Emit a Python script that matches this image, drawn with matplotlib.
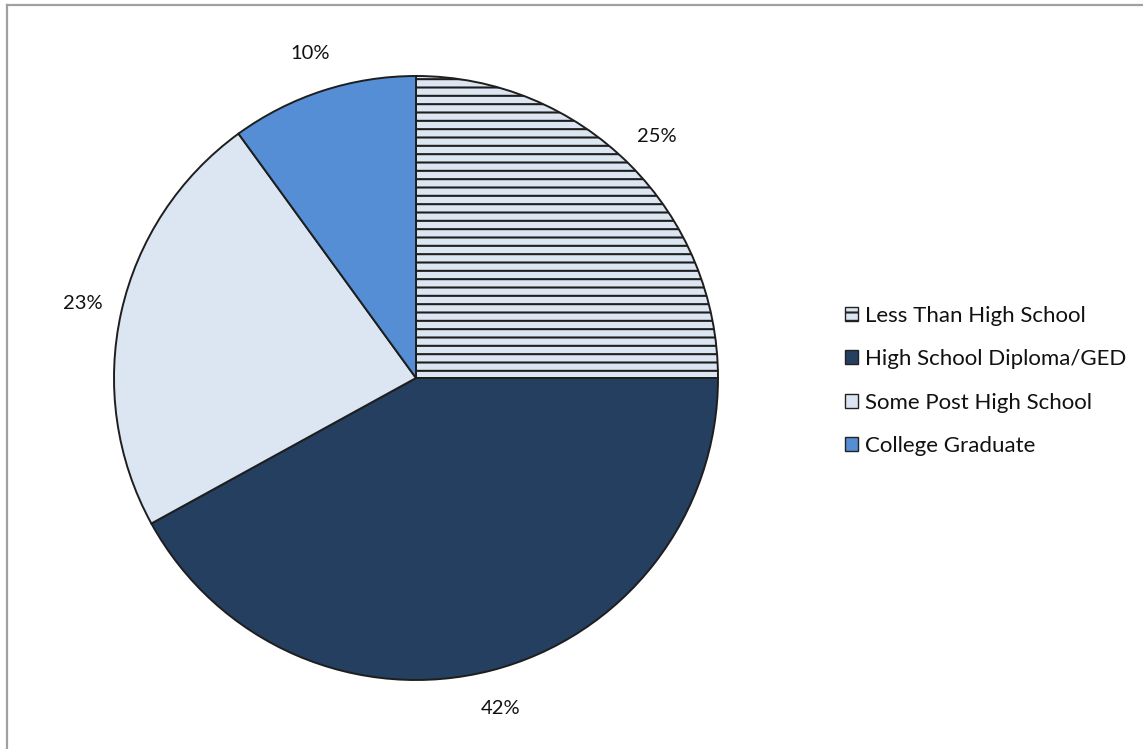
import matplotlib.pyplot as plt
from matplotlib.lines import Line2D
from matplotlib.patches import Patch

# education level shares, in percent
categories = ['Less Than High School', 'High School Diploma/GED',
              'Some Post High School', 'College Graduate']
shares = [25, 42, 23, 10]

navy = '#243F60'
pale = '#DCE6F2'
mid_blue = '#558ED5'
fills = [pale, navy, pale, mid_blue]
hatches = ['--', None, None, None]

plt.rcParams['font.family'] = ['Lato', 'DejaVu Sans']
plt.rcParams['hatch.color'] = navy
plt.rcParams['hatch.linewidth'] = 1.5

W, H, DPI = 1143, 749, 100
fig = plt.figure(figsize=(W / DPI, H / DPI), dpi=DPI, facecolor='white')

# pie centre (416, 378) px, radius 302 px
cx, cy, r = 416, 378, 302
ax = fig.add_axes([(cx - r) / W, (H - cy - r) / H, 2 * r / W, 2 * r / H])

wedges, _, pct_texts = ax.pie(
    shares, colors=fills, startangle=90, counterclock=False,
    autopct='%.0f%%', pctdistance=1.13,
    wedgeprops=dict(edgecolor='#1E1E1E', linewidth=1.4),
    textprops=dict(fontsize=14.5, color='#111111'))
for w, h in zip(wedges, hatches):
    if h:
        w.set_hatch(h)
ax.set_xlim(-1, 1)
ax.set_ylim(-1, 1)
ax.set_aspect('equal')

handles = [Patch(facecolor=f, edgecolor='#222222', hatch=h, linewidth=1.0)
           for f, h in zip(fills, hatches)]
leg = fig.legend(handles, categories, loc='upper left',
                 bbox_to_anchor=(836 / W, 1 - 297 / H), frameon=False,
                 fontsize=16, handlelength=0.6, handleheight=0.6,
                 handletextpad=0.3, labelspacing=1.05, borderaxespad=0)
for t in leg.get_texts():
    t.set_color('#111111')

# outer chart-area border (left and top edges)
fig.add_artist(Line2D([6.5 / W, 6.5 / W], [0, 1 - 5 / H],
                      transform=fig.transFigure, color='#A0A0A0', lw=1.6))
fig.add_artist(Line2D([6.5 / W, 1], [1 - 5 / H, 1 - 5 / H],
                      transform=fig.transFigure, color='#A0A0A0', lw=1.6))

fig.savefig('out.png', dpi=DPI, facecolor='white')
